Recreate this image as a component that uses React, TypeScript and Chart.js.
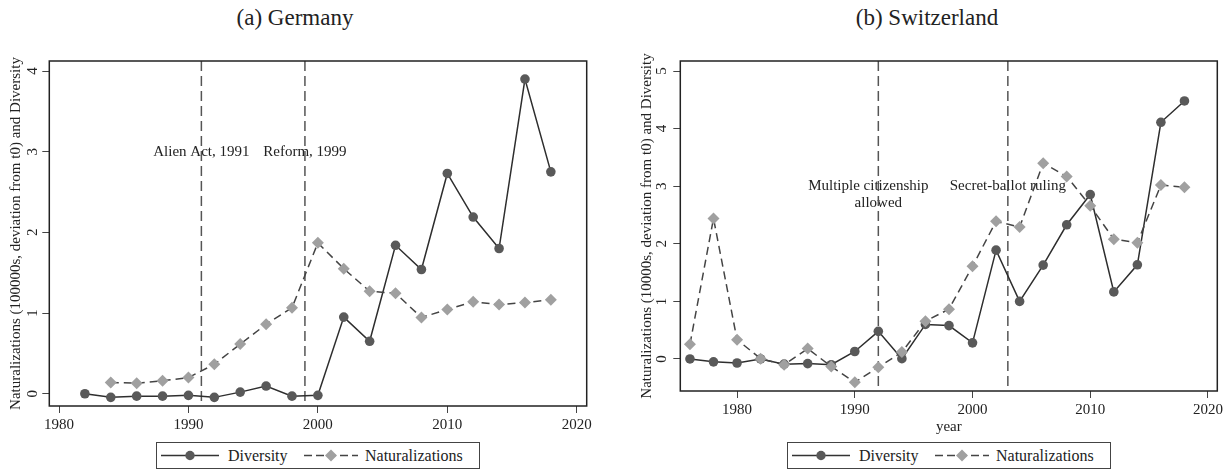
import React, { useEffect, useRef } from 'react';
import { Chart, registerables } from 'chart.js';

Chart.register(...registerables);

// ---------- Data ----------
const deDiversityYears = [1982, 1984, 1986, 1988, 1990, 1992, 1994, 1996, 1998, 2000, 2002, 2004, 2006, 2008, 2010, 2012, 2014, 2016, 2018];
const deDiversity = [0, -0.045, -0.03, -0.03, -0.02, -0.045, 0.02, 0.095, -0.03, -0.02, 0.95, 0.65, 1.84, 1.54, 2.73, 2.19, 1.8, 3.9, 2.75];
const deNatYears = [1984, 1986, 1988, 1990, 1992, 1994, 1996, 1998, 2000, 2002, 2004, 2006, 2008, 2010, 2012, 2014, 2016, 2018];
const deNaturalizations = [0.14, 0.13, 0.16, 0.2, 0.365, 0.615, 0.86, 1.065, 1.87, 1.55, 1.27, 1.245, 0.945, 1.045, 1.14, 1.105, 1.13, 1.165];

const chYears = [1976, 1978, 1980, 1982, 1984, 1986, 1988, 1990, 1992, 1994, 1996, 1998, 2000, 2002, 2004, 2006, 2008, 2010, 2012, 2014, 2016, 2018];
const chDiversity = [0, -0.05, -0.07, 0, -0.09, -0.08, -0.1, 0.13, 0.48, 0.005, 0.6, 0.58, 0.28, 1.89, 1.0, 1.63, 2.33, 2.855, 1.165, 1.635, 4.11, 4.48];
const chNaturalizations = [0.255, 2.44, 0.335, 0.005, -0.1, 0.18, -0.13, -0.405, -0.145, 0.12, 0.655, 0.865, 1.61, 2.39, 2.29, 3.4, 3.17, 2.66, 2.08, 2.02, 3.02, 2.98];

const xTickValues = [1980, 1990, 2000, 2010, 2020];
const deYTickValues = [0, 1, 2, 3, 4];
const chYTickValues = [0, 1, 2, 3, 4, 5];

const deEventYears = [1991, 1999];
const deEventLabels = [['Alien Act, 1991'], ['Reform, 1999']];
const chEventYears = [1992, 2003];
const chEventLabels = [['Multiple citizenship', 'allowed'], ['Secret-ballot ruling']];
const eventLabelValue = 3;

const deYTitle = 'Naturalizations (100000s, deviation from t0) and Diversity';
const chYTitle = 'Naturalizations (10000s, deviation from t0) and Diversity';

const SERIF = '"Liberation Serif", "Times New Roman", serif';

// ---------- Plugins ----------
const eventsPlugin = {
  id: 'events',
  beforeDatasetsDraw(chart: any, _args: any, opts: any) {
    const { ctx, chartArea, scales } = chart;
    const x = scales.x;
    const y = scales.y;
    ctx.save();
    ctx.font = `15px ${SERIF}`;
    ctx.fillStyle = '#222';
    ctx.textAlign = 'center';
    ctx.textBaseline = 'middle';
    opts.years.forEach((yr: number, i: number) => {
      const px = x.getPixelForValue(yr);
      const py = y.getPixelForValue(opts.labelValue);
      opts.labels[i].forEach((t: string, j: number) => {
        const off = opts.labels[i].length > 1 && j === 0 ? -10 : 0;
        ctx.fillText(t, px + off, py + j * 17);
      });
    });
    ctx.strokeStyle = '#555';
    ctx.lineWidth = 1.5;
    ctx.setLineDash([10, 5]);
    opts.years.forEach((yr: number) => {
      const px = x.getPixelForValue(yr);
      ctx.beginPath();
      ctx.moveTo(px, chartArea.top);
      ctx.lineTo(px, chartArea.bottom);
      ctx.stroke();
    });
    ctx.restore();
  },
};

const boxPlugin = {
  id: 'box',
  afterDraw(chart: any) {
    const { ctx, chartArea } = chart;
    ctx.save();
    ctx.strokeStyle = '#222';
    ctx.lineWidth = 1.5;
    ctx.strokeRect(chartArea.left, chartArea.top, chartArea.right - chartArea.left, chartArea.bottom - chartArea.top);
    ctx.restore();
  },
};

type PanelSpec = {
  divYears: number[];
  div: number[];
  natYears: number[];
  nat: number[];
  xMin: number;
  xMax: number;
  yMin: number;
  yMax: number;
  yTicks: number[];
  yTitle: string;
  xTitle: string | null;
  xHeight: number;
  yWidth: number;
  padRight: number;
  yTickPad: number;
  eventYears: number[];
  eventLabels: string[][];
};

function buildConfig(p: PanelSpec): any {
  return {
    type: 'line',
    data: {
      datasets: [
        {
          label: 'Diversity',
          data: p.divYears.map((x, i) => ({ x, y: p.div[i] })),
          borderColor: '#2e2e2e',
          borderWidth: 1.5,
          pointStyle: 'circle',
          pointRadius: 4.8,
          pointBackgroundColor: '#595959',
          pointBorderColor: '#595959',
          pointBorderWidth: 0,
          tension: 0,
          order: 1,
        },
        {
          label: 'Naturalizations',
          data: p.natYears.map((x, i) => ({ x, y: p.nat[i] })),
          borderColor: '#444',
          borderWidth: 1.5,
          borderDash: [8, 5],
          pointStyle: 'rectRot',
          pointRadius: 6,
          pointBackgroundColor: '#a0a0a0',
          pointBorderColor: '#a0a0a0',
          pointBorderWidth: 0,
          tension: 0,
          order: 0,
        },
      ],
    },
    options: {
      responsive: false,
      animation: false,
      devicePixelRatio: 1,
      events: [],
      layout: { padding: { left: 0, right: p.padRight, top: 61, bottom: 0 } },
      plugins: {
        legend: { display: false },
        tooltip: { enabled: false },
        title: { display: false },
        events: { years: p.eventYears, labels: p.eventLabels, labelValue: eventLabelValue },
      },
      scales: {
        x: {
          type: 'linear',
          min: p.xMin,
          max: p.xMax,
          afterBuildTicks: (s: any) => {
            s.ticks = xTickValues.map((v) => ({ value: v }));
          },
          afterFit: (s: any) => {
            s.height = p.xHeight;
          },
          grid: { display: true, drawOnChartArea: false, drawTicks: true, tickLength: 7, color: '#444', lineWidth: 1 },
          border: { display: false },
          ticks: {
            font: { family: SERIF, size: 15 },
            color: '#222',
            padding: 3,
            maxRotation: 0,
            minRotation: 0,
            autoSkip: false,
            callback: (v: any) => String(v),
          },
          title: p.xTitle
            ? { display: true, text: p.xTitle, font: { family: SERIF, size: 15 }, color: '#222', padding: { top: 0, bottom: 4 } }
            : { display: false },
        },
        y: {
          type: 'linear',
          min: p.yMin,
          max: p.yMax,
          afterBuildTicks: (s: any) => {
            s.ticks = p.yTicks.map((v) => ({ value: v }));
          },
          afterFit: (s: any) => {
            s.width = p.yWidth;
          },
          grid: { display: true, drawOnChartArea: false, drawTicks: true, tickLength: 7, color: '#444', lineWidth: 1 },
          border: { display: false },
          ticks: {
            font: { family: SERIF, size: 15 },
            color: '#222',
            padding: p.yTickPad,
            minRotation: 90,
            maxRotation: 90,
            crossAlign: 'center',
            autoSkip: false,
            callback: (v: any) => String(v),
          },
          title: {
            display: true,
            text: p.yTitle,
            font: { family: SERIF, size: 15 },
            color: '#222',
            padding: { top: 7, bottom: 0 },
          },
        },
      },
    },
    plugins: [eventsPlugin, boxPlugin],
  };
}

function Panel({ spec, left }: { spec: PanelSpec; left: number }) {
  const ref = useRef<HTMLCanvasElement | null>(null);
  useEffect(() => {
    if (!ref.current) return;
    const chart = new Chart(ref.current, buildConfig(spec));
    return () => chart.destroy();
  }, []);
  return (
    <canvas
      ref={ref}
      width={600}
      height={440}
      style={{ position: 'absolute', left, top: 0, width: 600, height: 440 }}
    />
  );
}

function Legend({ left }: { left: number }) {
  return (
    <div
      style={{
        position: 'absolute',
        left,
        top: 442,
        width: 324,
        height: 27,
        boxSizing: 'border-box',
        border: '1px solid #444',
        fontFamily: SERIF,
        fontSize: 16,
        color: '#222',
      }}
    >
      <svg style={{ position: 'absolute', left: 4, top: 0 }} width={58} height={25}>
        <line x1={0} y1={12.5} x2={58} y2={12.5} stroke="#333" strokeWidth={1.5} />
        <circle cx={29} cy={12.5} r={4.7} fill="#595959" />
      </svg>
      <span style={{ position: 'absolute', left: 71, top: 0, lineHeight: '25px', whiteSpace: 'nowrap' }}>Diversity</span>
      <svg style={{ position: 'absolute', left: 147, top: 0 }} width={54} height={25}>
        <line x1={0} y1={12.5} x2={54} y2={12.5} stroke="#444" strokeWidth={1.5} strokeDasharray="8 4" />
        <polygon points="27,6.5 33,12.5 27,18.5 21,12.5" fill="#a0a0a0" />
      </svg>
      <span style={{ position: 'absolute', left: 208, top: 0, lineHeight: '25px', whiteSpace: 'nowrap' }}>
        Naturalizations
      </span>
    </div>
  );
}

const germanySpec: PanelSpec = {
  divYears: deDiversityYears,
  div: deDiversity,
  natYears: deNatYears,
  nat: deNaturalizations,
  xMin: 1979.25,
  xMax: 2020.77,
  yMin: -0.152,
  yMax: 4.124,
  yTicks: deYTickValues,
  yTitle: deYTitle,
  xTitle: null,
  xHeight: 34,
  yWidth: 49.3,
  padRight: 13.3,
  yTickPad: 5,
  eventYears: deEventYears,
  eventLabels: deEventLabels,
};

const swissSpec: PanelSpec = {
  divYears: chYears,
  div: chDiversity,
  natYears: chYears,
  nat: chNaturalizations,
  xMin: 1975.18,
  xMax: 2020.79,
  yMin: -0.556,
  yMax: 5.174,
  yTicks: chYTickValues,
  yTitle: chYTitle,
  xTitle: 'year',
  xHeight: 49,
  yWidth: 49.3,
  padRight: 13.7,
  yTickPad: 7.5,
  eventYears: chEventYears,
  eventLabels: chEventLabels,
};

export default function App() {
  const titleStyle: React.CSSProperties = {
    position: 'absolute',
    top: 5,
    width: 600,
    textAlign: 'center',
    fontFamily: SERIF,
    fontSize: 23,
    lineHeight: '26px',
    color: '#222',
  };
  return (
    <div style={{ position: 'fixed', left: 0, top: 0, width: 1232, height: 472, background: '#fff', overflow: 'hidden' }}>
      <div style={{ ...titleStyle, left: -5 }}>(a) Germany</div>
      <div style={{ ...titleStyle, left: 627 }}>(b) Switzerland</div>
      <Panel spec={germanySpec} left={0} />
      <Panel spec={swissSpec} left={631} />
      <Legend left={156} />
      <Legend left={787} />
    </div>
  );
}
